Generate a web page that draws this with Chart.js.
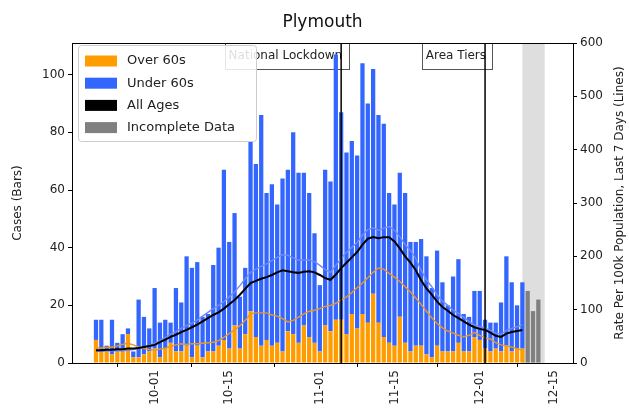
<!DOCTYPE html>
<html>
<head>
<meta charset="utf-8">
<title>Plymouth</title>
<script src="https://cdn.jsdelivr.net/npm/chart.js@4.4.0/dist/chart.umd.min.js"></script>
<style>
    html, body { margin: 0; padding: 0; background: #fff; }
    #wrap { width: 629px; height: 419px; }
</style>
</head>
<body>
<div id="wrap"><canvas id="chart" width="629" height="419"></canvas></div>
<script>
// --- Data ---
const firstDay = '2020-09-16';
const lastDay = '2020-12-18';
const dataStart = '09-20';        // first day with case bars / rate lines
const incompleteStart = '12-10';  // first day of incomplete data
const xTickLabels = ['10-01', '10-15', '11-01', '11-15', '12-01', '12-15'];

// daily cases, 09-20 .. 12-09
const over60 = [8, 4, 4, 3, 4, 5, 10, 2, 2, 3, 4, 5, 2, 5, 7, 4, 4, 6, 2, 6,
    2, 4, 4, 6, 8, 5, 13, 5, 10, 18, 9, 6, 8, 6, 7, 4, 11, 10, 7, 13,
    9, 7, 4, 13, 11, 15, 15, 10, 17, 12, 17, 14, 24, 14, 9, 7, 6, 16, 7, 4,
    6, 6, 3, 2, 6, 4, 4, 4, 7, 4, 4, 9, 8, 5, 4, 5, 4, 6, 4, 5, 5];
const under60 = [7, 11, 2, 12, 3, 5, 2, 2, 20, 13, 8, 21, 12, 10, 7, 22, 17, 31, 31, 29,
    14, 13, 30, 34, 59, 37, 39, 18, 23, 59, 60, 80, 51, 56, 48, 60, 56, 70, 59, 53,
    50, 38, 23, 54, 52, 92, 72, 63, 60, 60, 87, 76, 78, 72, 74, 52, 49, 50, 52, 38,
    36, 37, 34, 24, 33, 24, 16, 26, 29, 13, 12, 16, 17, 10, 10, 9, 17, 31, 24, 15, 23];
// 12-10 .. 12-12
const incomplete = [25, 18, 22];

// 7-day rate per 100k, 09-20 .. 12-09
const allRate = [24, 24, 25, 25, 26, 26, 27, 27, 28, 30, 32, 34, 39, 44, 49, 53, 58, 62, 67, 72,
    78, 84, 90, 95, 102, 110, 118, 128, 139, 150, 154, 158, 161, 165, 170, 174, 172, 170, 169, 171,
    172, 170, 165, 159, 156, 166, 178, 188, 198, 208, 222, 233, 236, 234, 236, 236, 228, 215, 200, 188,
    174, 155, 140, 128, 115, 105, 98, 90, 84, 78, 72, 67, 64, 62, 57, 51, 49, 55, 58, 60, 62];
const overRate = [28, 28, 29, 30, 32, 35, 37, 34, 30, 27, 25, 24, 26, 28, 31, 34, 36, 35, 36, 36,
    37, 38, 39, 42, 48, 55, 62, 70, 80, 92, 94, 94, 94, 90, 88, 83, 77, 80, 86, 92,
    97, 99, 102, 106, 108, 112, 118, 124, 132, 141, 150, 160, 170, 178, 176, 168, 161, 153, 143, 133,
    122, 110, 97, 85, 74, 66, 60, 56, 52, 49, 52, 57, 52, 47, 45, 38, 34, 32, 30, 27, 24];
const underRate = [22, 22, 23, 23, 23, 23, 24, 25, 27, 30, 33, 37, 42, 48, 54, 59, 65, 70, 75, 81,
    88, 95, 102, 108, 115, 124, 133, 145, 158, 170, 176, 181, 186, 192, 198, 203, 202, 197, 193, 193,
    193, 190, 183, 175, 170, 183, 196, 207, 217, 226, 240, 250, 253, 249, 253, 256, 249, 237, 222, 211,
    196, 174, 156, 143, 128, 116, 108, 99, 93, 86, 78, 71, 68, 66, 61, 56, 54, 61, 65, 68, 72];

const events = [
    { day: '11-05', text: 'National Lockdown' },
    { day: '12-02', text: 'Area Tiers' }
];
const shadeFrom = '12-09';
const shadeTo = '12-13';

// --- Colours ---
const ORANGE = '#ff9c00';
const BLUE = '#3366ff';
const GREY = '#808080';

// --- Helpers ---
function dayList(from, to) {
    const out = [];
    const d = new Date(from + 'T00:00:00Z');
    const end = new Date(to + 'T00:00:00Z');
    while (d <= end) {
        const mm = String(d.getUTCMonth() + 1).padStart(2, '0');
        const dd = String(d.getUTCDate()).padStart(2, '0');
        out.push(mm + '-' + dd);
        d.setUTCDate(d.getUTCDate() + 1);
    }
    return out;
}

const days = dayList(firstDay, lastDay);

// put a run of values onto the full day axis, starting at a given day
function placeAt(start, values) {
    const arr = days.map(() => null);
    const i0 = days.indexOf(start);
    values.forEach((v, i) => { arr[i0 + i] = v; });
    return arr;
}

const legendItems = [
    { text: 'Over 60s', color: ORANGE },
    { text: 'Under 60s', color: BLUE },
    { text: 'All Ages', color: '#000' },
    { text: 'Incomplete Data', color: GREY }
];

// --- Extra drawing: shading, event markers, frame, legend, right title ---
const decorations = {
    id: 'decorations',
    beforeDatasetsDraw(chart) {
        const { ctx, chartArea: a, scales: { x } } = chart;
        ctx.save();
        const s = x.getPixelForValue(days.indexOf(shadeFrom));
        const e = x.getPixelForValue(days.indexOf(shadeTo));
        ctx.fillStyle = 'rgba(200,200,200,0.6)';
        ctx.fillRect(s, a.top, e - s + 1, a.bottom - a.top);

        ctx.font = '12px "DejaVu Sans"';
        events.forEach(ev => {
            const lx = x.getPixelForValue(days.indexOf(ev.day));
            const w = ctx.measureText(ev.text).width;
            const right = lx + 1;
            const bx = Math.round(right - w - 4) + 0.5;
            const bw = Math.round(w + 10);
            ctx.fillStyle = 'rgba(255,255,255,0.85)';
            ctx.fillRect(bx, a.top + 0.5, bw, 26);
            ctx.strokeStyle = '#555';
            ctx.lineWidth = 1;
            ctx.strokeRect(bx, a.top + 0.5, bw, 26);
            ctx.fillStyle = '#222';
            ctx.textAlign = 'right';
            ctx.textBaseline = 'middle';
            ctx.fillText(ev.text, right, a.top + 13);
        });
        ctx.restore();
    },
    afterDatasetsDraw(chart) {
        const { ctx, chartArea: a, scales: { x } } = chart;
        ctx.save();
        ctx.strokeStyle = '#000';
        ctx.lineWidth = 1.5;
        events.forEach(ev => {
            const lx = x.getPixelForValue(days.indexOf(ev.day));
            ctx.beginPath();
            ctx.moveTo(lx, a.top);
            ctx.lineTo(lx, a.bottom);
            ctx.stroke();
        });
        // frame
        ctx.lineWidth = 1;
        ctx.strokeRect(Math.round(a.left) + 0.5, Math.round(a.top) + 0.5,
            Math.round(a.right - a.left), Math.round(a.bottom - a.top));
        ctx.restore();
    },
    afterDraw(chart) {
        const { ctx, chartArea: a } = chart;
        ctx.save();
        // legend
        const lx = 78.5, ly = 45.5, lw = 178, lh = 96;
        ctx.fillStyle = 'rgba(255,255,255,0.85)';
        ctx.strokeStyle = '#cccccc';
        ctx.lineWidth = 1;
        ctx.beginPath();
        ctx.roundRect(lx, ly, lw, lh, 3);
        ctx.fill();
        ctx.stroke();
        ctx.font = '13px "DejaVu Sans"';
        ctx.textBaseline = 'middle';
        ctx.textAlign = 'left';
        legendItems.forEach((it, i) => {
            const cy = 61 + i * 22.2;
            ctx.fillStyle = it.color;
            ctx.fillRect(85, cy - 5.5, 32, 11);
            ctx.fillStyle = '#222';
            ctx.fillText(it.text, 127, cy);
        });
        // right axis title (reads bottom to top)
        ctx.translate(620, (a.top + a.bottom) / 2);
        ctx.rotate(-Math.PI / 2);
        ctx.textAlign = 'center';
        ctx.font = '12px "DejaVu Sans"';
        ctx.fillStyle = '#222';
        ctx.fillText('Rate Per 100k Population, Last 7 Days (Lines)', 0, 0);
        ctx.restore();
    }
};

// --- Chart ---
Chart.defaults.font.family = '"DejaVu Sans", sans-serif';
Chart.defaults.font.size = 12;
Chart.defaults.color = '#222';

const tickStyle = { color: '#222', font: { size: 12 } };

new Chart(document.getElementById('chart').getContext('2d'), {
    type: 'bar',
    data: {
        labels: days,
        datasets: [
            {
                type: 'line', label: 'All Ages', data: placeAt(dataStart, allRate),
                yAxisID: 'y1', borderColor: '#000', borderWidth: 2, pointRadius: 0, order: 0
            },
            {
                type: 'line', label: 'Under 60s rate', data: placeAt(dataStart, underRate),
                yAxisID: 'y1', borderColor: '#7088f5', borderWidth: 1.4, pointRadius: 0, order: 1
            },
            {
                type: 'line', label: 'Over 60s rate', data: placeAt(dataStart, overRate),
                yAxisID: 'y1', borderColor: '#e8962a', borderWidth: 1.4, pointRadius: 0, order: 1
            },
            {
                label: 'Over 60s', data: placeAt(dataStart, over60), backgroundColor: ORANGE,
                stack: 'cases', yAxisID: 'y', order: 3, barPercentage: 0.8, categoryPercentage: 1
            },
            {
                label: 'Under 60s', data: placeAt(dataStart, under60), backgroundColor: BLUE,
                stack: 'cases', yAxisID: 'y', order: 3, barPercentage: 0.8, categoryPercentage: 1
            },
            {
                label: 'Incomplete Data', data: placeAt(incompleteStart, incomplete), backgroundColor: GREY,
                stack: 'cases', yAxisID: 'y', order: 3, barPercentage: 0.8, categoryPercentage: 1
            }
        ]
    },
    options: {
        responsive: false,
        animation: false,
        layout: { padding: 0 },
        plugins: {
            legend: { display: false },
            tooltip: { enabled: false },
            title: {
                display: true, text: 'Plymouth', fullSize: false, color: '#111',
                font: { size: 17, weight: 'normal' }, padding: { top: 12, bottom: 10.6 }
            }
        },
        scales: {
            x: {
                type: 'category', stacked: true, offset: true,
                border: { display: false },
                grid: {
                    drawOnChartArea: false, drawTicks: true, tickLength: 4,
                    color: c => (c.tick && xTickLabels.includes(days[c.tick.value])) ? '#000' : 'rgba(0,0,0,0)'
                },
                ticks: {
                    ...tickStyle, autoSkip: false, minRotation: 90, maxRotation: 90, padding: 3,
                    callback: function (v) {
                        const l = this.getLabelForValue(v);
                        return xTickLabels.includes(l) ? l : null;
                    }
                },
                afterFit: s => { s.height = 56; }
            },
            y: {
                position: 'left', stacked: true, min: 0, max: 111,
                border: { display: false },
                grid: { drawOnChartArea: false, drawTicks: true, tickLength: 4, color: '#000' },
                ticks: { ...tickStyle, stepSize: 20, padding: 3 },
                afterBuildTicks: s => { s.ticks = s.ticks.filter(t => t.value % 20 === 0); },
                title: { display: true, text: 'Cases (Bars)', color: '#222', font: { size: 12 }, padding: { top: 11, bottom: 0 } },
                afterFit: s => { s.width = 72; }
            },
            y1: {
                position: 'right', stacked: false, min: 0, max: 600,
                border: { display: false },
                grid: { drawOnChartArea: false, drawTicks: true, tickLength: 4, color: '#000' },
                ticks: { ...tickStyle, stepSize: 100, padding: 3 },
                afterFit: s => { s.width = 56; }
            }
        }
    },
    plugins: [decorations]
});
</script>
</body>
</html>
